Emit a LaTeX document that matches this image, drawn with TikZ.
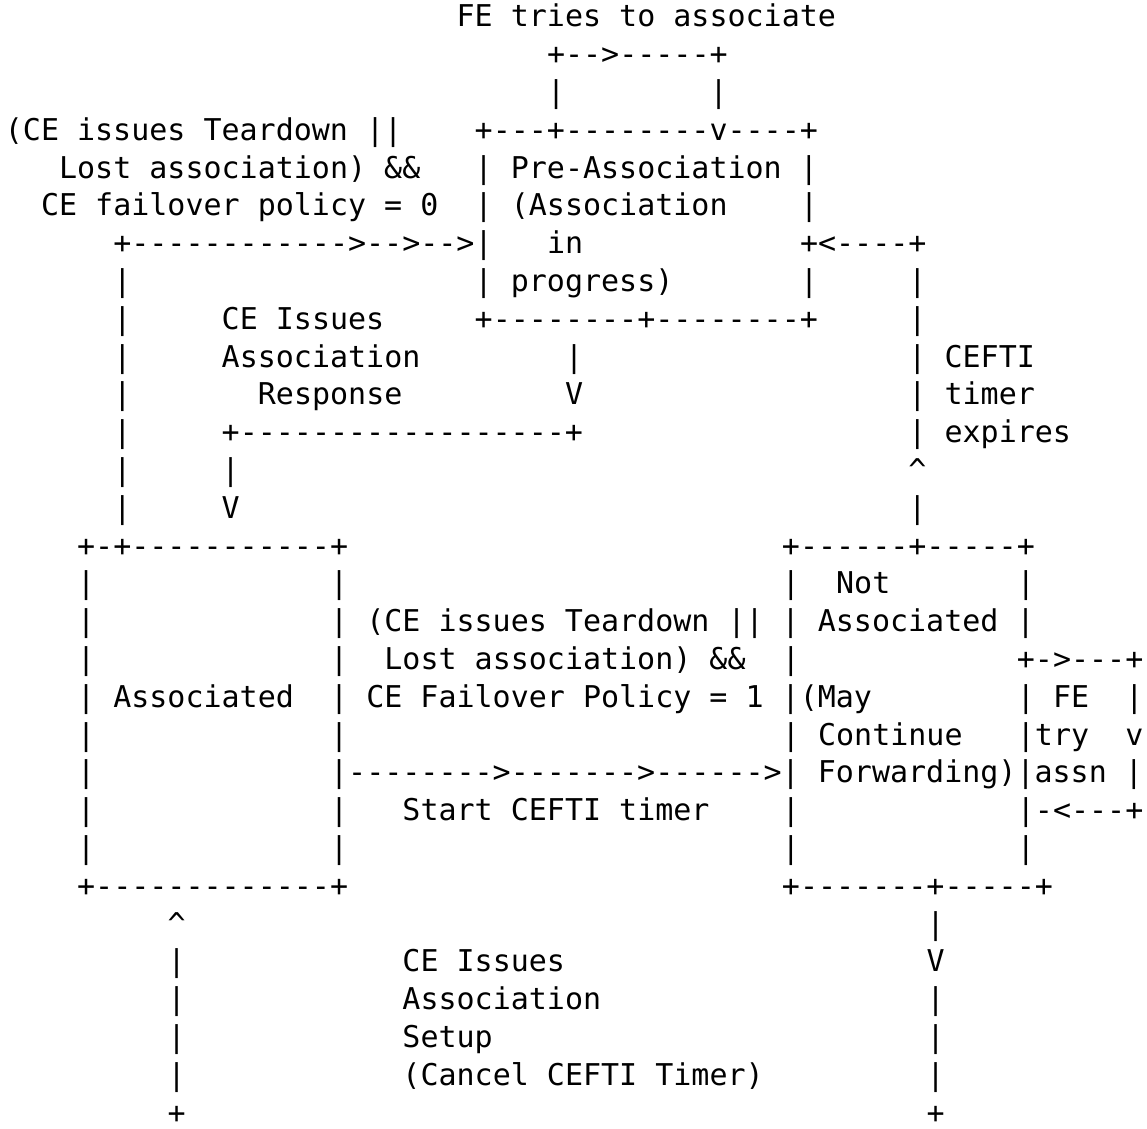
\documentclass[tikz,border=0pt]{standalone}
\usepackage{fontspec}
\setmonofont{DejaVu Sans Mono}
\usetikzlibrary{positioning}

\tikzset{asc/.style={font=\ttfamily\fontsize{15}{18.9}\selectfont,
    anchor=base west, inner sep=0pt, outer sep=0pt}}

\begin{document}
\begin{tikzpicture}[x=9.035pt, y=-18.9pt]
  % page
  \fill[white] (-0.27,-0.71) rectangle (63.2,29.13);
  \useasboundingbox (-0.27,-0.71) rectangle (63.2,29.13);

  % FE tries to associate (loop on Pre-Association)
  \node[asc] (fetry) at (25,0) {FE tries to associate};
  \node[asc] (looptop) at (30,1) {+-->-----+};
  \node[asc] (loopl) at (30,2) {|};
  \node[asc] (loopr) at (39,2) {|};

  % Pre-Association box
  \node[asc] (pretop) at (26,3) {+---+--------v----+};
  \node[asc] (pre1) at (26,4) {| Pre-Association |};
  \node[asc] (pre2) at (26,5) {| (Association};
  \node[asc] (pre2r) at (44,5) {|};
  \node[asc] (pre3) at (30,6) {in};
  \node[asc] (pre4) at (26,7) {| progress)};
  \node[asc] (pre4r) at (44,7) {|};
  \node[asc] (prebot) at (26,8) {+--------+--------+};

  % Teardown with policy 0
  \node[asc] (td0a) at (0,3) {(CE issues Teardown ||};
  \node[asc] (td0b) at (3,4) {Lost association) \&\&};
  \node[asc] (td0c) at (2,5) {CE failover policy = 0};
  \node[asc] (td0arr) at (6,6) {+------------>-->-->|};
  \foreach \r in {7,...,13}
    \node[asc] (td0v\r) at (6,\r) {|};

  % Association Response
  \node[asc] (resp1) at (12,8) {CE Issues};
  \node[asc] (resp2) at (12,9) {Association};
  \node[asc] (resp3) at (14,10) {Response};
  \node[asc] (respv1) at (31,9) {|};
  \node[asc] (respv2) at (31,10) {V};
  \node[asc] (respline) at (12,11) {+------------------+};
  \node[asc] (respv3) at (12,12) {|};
  \node[asc] (respv4) at (12,13) {V};

  % CEFTI timer expires
  \node[asc] (exp0) at (44,6) {+<----+};
  \node[asc] (exp1) at (50,7) {|};
  \node[asc] (exp2) at (50,8) {|};
  \node[asc] (exp3) at (50,9) {| CEFTI};
  \node[asc] (exp4) at (50,10) {| timer};
  \node[asc] (exp5) at (50,11) {| expires};
  \node[asc] (exp6) at (50,12) {\textasciicircum};
  \node[asc] (exp7) at (50,13) {|};

  % Associated box
  \node[asc] (asstop) at (4,14) {+-+-----------+};
  \foreach \r in {15,16,17,19,20,21,22}
    \node[asc] (assl\r) at (4,\r) {|};
  \node[asc] (ass) at (4,18) {| Associated};
  \foreach \r in {15,17,19,21,22}
    \node[asc] (assr\r) at (18,\r) {|};
  \node[asc] (assbot) at (4,23) {+-------------+};

  % Teardown with policy 1
  \node[asc] (td1a) at (18,16) {| (CE issues Teardown || | Associated |};
  \node[asc] (td1b) at (21,17) {Lost association) \&\&};
  \node[asc] (td1c) at (18,18) {| CE Failover Policy = 1 |(May};
  \node[asc] (td1arr) at (18,20) {|-------->------->------>| Forwarding)|assn |};
  \node[asc] (td1d) at (22,21) {Start CEFTI timer};

  % Not Associated box
  \node[asc] (natop) at (43,14) {+------+-----+};
  \node[asc] (na1) at (43,15) {|};
  \node[asc] (na1t) at (46,15) {Not};
  \node[asc] (na1r) at (56,15) {|};
  \node[asc] (na3) at (43,17) {|};
  \node[asc] (na4) at (43,19) {| Continue};
  \node[asc] (na5) at (43,21) {|};
  \node[asc] (na6) at (43,22) {|};
  \node[asc] (na6r) at (56,22) {|};
  \node[asc] (nabot) at (43,23) {+-------+-----+};

  % FE try assn loop
  \node[asc] (try0) at (56,17) {+->---+};
  \node[asc] (try1) at (56,18) {| FE};
  \node[asc] (try1r) at (62,18) {|};
  \node[asc] (try2) at (56,19) {|try};
  \node[asc] (try2r) at (62,19) {v};
  \node[asc] (try4) at (56,21) {|-<---+};

  % Association Setup
  \node[asc] (setv0) at (9,24) {\textasciicircum};
  \foreach \r in {25,...,28}
    \node[asc] (setv\r) at (9,\r) {|};
  \node[asc] (setend) at (9,29) {+};
  \node[asc] (set1) at (22,25) {CE Issues};
  \node[asc] (set2) at (22,26) {Association};
  \node[asc] (set3) at (22,27) {Setup};
  \node[asc] (set4) at (22,28) {(Cancel CEFTI Timer)};
  \node[asc] (nav0) at (51,24) {|};
  \node[asc] (nav1) at (51,25) {V};
  \foreach \r in {26,...,28}
    \node[asc] (nav\r) at (51,\r) {|};
  \node[asc] (naend) at (51,29) {+};
\end{tikzpicture}
\end{document}
